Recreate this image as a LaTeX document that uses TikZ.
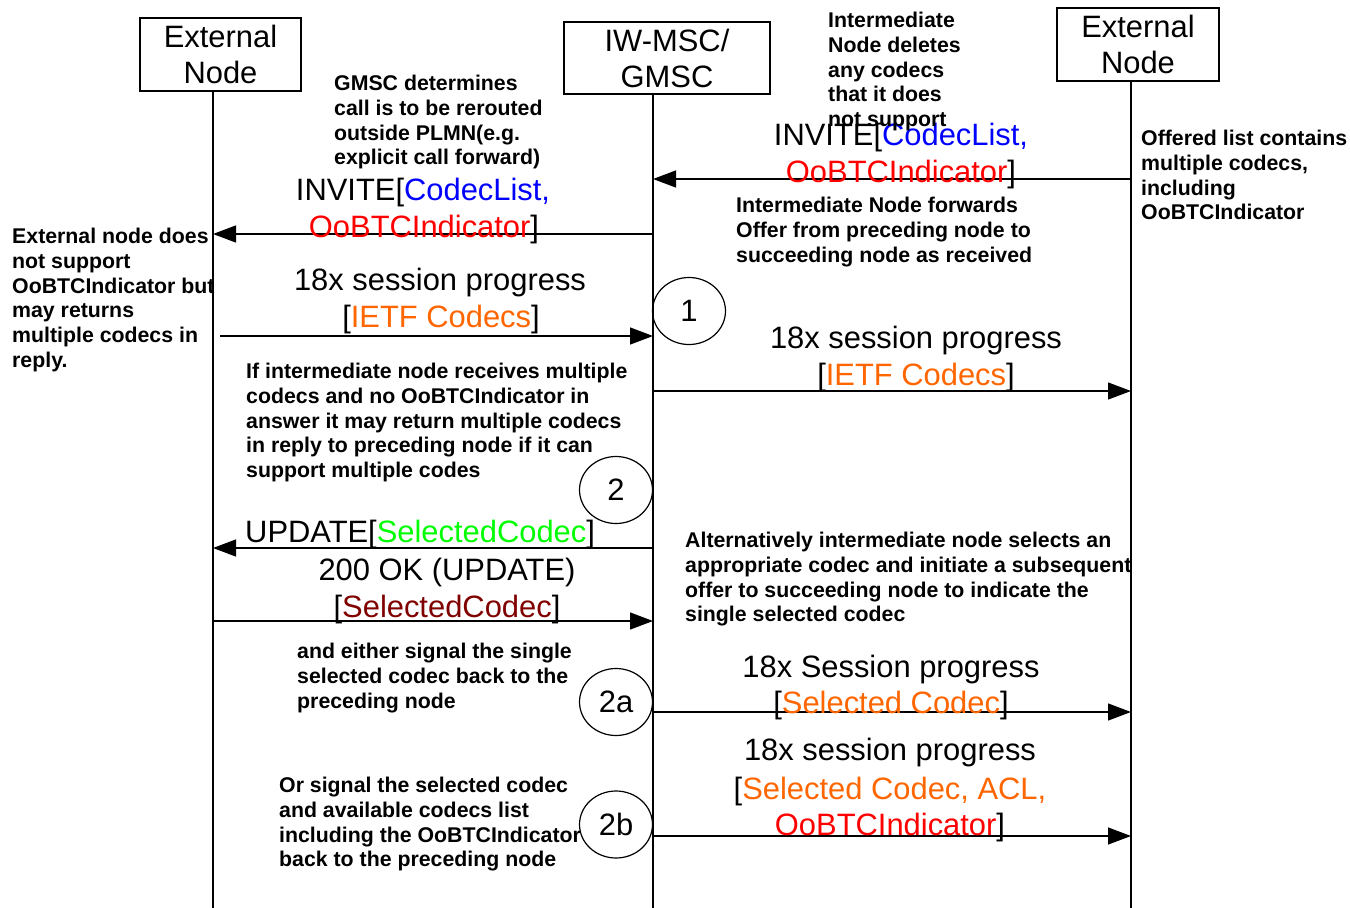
\documentclass[tikz,border=0pt]{standalone}
\usepackage{fontspec}
\setmainfont{Liberation Sans}
\usetikzlibrary{arrows.meta,shapes.geometric}
\definecolor{cblue}{RGB}{0,0,255}
\definecolor{cred}{RGB}{255,0,0}
\definecolor{corange}{RGB}{255,102,0}
\definecolor{cgreen}{RGB}{0,255,0}
\definecolor{cdred}{RGB}{128,0,0}
\newcommand{\bigf}{\fontsize{30.9}{36}\selectfont}
\newcommand{\notef}{\fontsize{21.3}{24.7}\selectfont\bfseries}
\begin{document}
\begin{tikzpicture}[x=1pt,y=-1pt,
  actor/.style={draw, line width=1.3pt, align=center, font=\bigf, inner sep=0pt},
  lbl/.style={anchor=base, inner sep=0pt, font=\bigf},
  note/.style={anchor=north west, inner sep=0pt, align=left, font=\notef},
  msg/.style={line width=1.3pt, -{Triangle[length=23pt,width=17pt]}},
  life/.style={line width=1.3pt},
  numc/.style={draw, ellipse, line width=1.2pt, minimum width=73pt, minimum height=67pt, inner sep=0pt, font=\bigf}]
\useasboundingbox (0,0) rectangle (1350,908);
% actors
\node[actor, minimum width=161pt, minimum height=73pt] (lbox) at (220.5,54.5) {External\\Node};
\node[actor, minimum width=206pt, minimum height=72pt] (mbox) at (667,58) {IW-MSC/\\GMSC};
\node[actor, minimum width=162pt, minimum height=73pt] (rbox) at (1138,44.5) {External\\Node};
\coordinate (lbot) at (213,908);
\coordinate (mbot) at (653,908);
\coordinate (rbot) at (1131,908);
\draw[life] (lbox.south -| lbot) -- (lbot);
\draw[life] (mbox.south -| mbot) -- (mbot);
\draw[life] (rbox.south -| rbot) -- (rbot);
% message coordinates
\coordinate (r1) at (1131,179); \coordinate (m1) at (653,179);
\coordinate (m2) at (653,234); \coordinate (l2) at (213,234);
\coordinate (l3) at (220,336); \coordinate (m3) at (653,336);
\coordinate (m4) at (653,391); \coordinate (r4) at (1131,391);
\coordinate (m5) at (653,548); \coordinate (l5) at (213,548);
\coordinate (l6) at (213,621); \coordinate (m6) at (653,621);
\coordinate (m7) at (653,712); \coordinate (r7) at (1131,712);
\coordinate (m8) at (653,836); \coordinate (r8) at (1131,836);
\draw[msg] (r1) -- (m1);
\draw[msg] (m2) -- (l2);
\draw[msg] (l3) -- (m3);
\draw[msg] (m4) -- (r4);
\draw[msg] (m5) -- (l5);
\draw[msg] (l6) -- (m6);
\draw[msg] (m7) -- (r7);
\draw[msg] (m8) -- (r8);
% message labels
\node[lbl] (t1a) at (901,145) {INVITE[\textcolor{cblue}{CodecList,}};
\node[lbl] (t1b) at (901,182) {\textcolor{cred}{OoBTCIndicator}]};
\node[lbl] (t2a) at (423,200) {INVITE[\textcolor{cblue}{CodecList,}};
\node[lbl] (t2b) at (424,237) {\textcolor{cred}{OoBTCIndicator}]};
\node[lbl] (t3a) at (440,290) {18x session progress};
\node[lbl] (t3b) at (441,327) {[\textcolor{corange}{IETF Codecs}]};
\node[lbl] (t4a) at (916,348) {18x session progress};
\node[lbl] (t4b) at (916,385) {[\textcolor{corange}{IETF Codecs}]};
\node[lbl, anchor=base west] (t5) at (245,542) {UPDATE[\textcolor{cgreen}{SelectedCodec}]};
\node[lbl] (t6a) at (447,580) {200 OK (UPDATE)};
\node[lbl] (t6b) at (447,617) {[\textcolor{cdred}{SelectedCodec}]};
\node[lbl] (t7a) at (891,677) {18x Session progress};
\node[lbl] (t7b) at (891,713) {[\textcolor{corange}{Selected Codec}]};
\node[lbl] (t8a) at (890,760) {18x session progress};
\node[lbl] (t8b) at (890,799) {[\textcolor{corange}{Selected Codec, ACL,}};
\node[lbl] (t8c) at (890,835) {\textcolor{cred}{OoBTCIndicator}]};
% step circles
\node[numc] (c1) at (689,311) {1};
\node[numc] (c2) at (616,490) {2};
\node[numc] (c2a) at (616,702) {2a};
\node[numc] (c2b) at (616,824.5) {2b};
% notes
\node[note] (n1) at (334,75) {GMSC determines\\call is to be rerouted\\outside PLMN(e.g.\\explicit call forward)};
\node[note] (n2) at (828,12) {Intermediate\\Node deletes\\any codecs\\that it does\\not support};
\node[note] (n3) at (1141,130) {Offered list contains\\multiple codecs,\\including\\OoBTCIndicator};
\node[note] (n4) at (736,197) {Intermediate Node forwards\\Offer from preceding node to\\succeeding node as received};
\node[note] (n5) at (12,228) {External node does\\not support\\OoBTCIndicator but\\may returns\\multiple codecs in\\reply.};
\node[note] (n6) at (246,363) {If intermediate node receives multiple\\codecs and no OoBTCIndicator in\\answer it may return multiple codecs\\in reply to preceding node if it can\\support multiple codes};
\node[note] (n7) at (685,532) {Alternatively intermediate node selects an\\appropriate codec and initiate a subsequent\\offer to succeeding node to indicate the\\single selected codec};
\node[note] (n8) at (297,643) {and either signal the single\\selected codec back to the\\preceding node};
\node[note] (n9) at (279,777) {Or signal the selected codec\\and available codecs list\\including the OoBTCIndicator\\back to the preceding node};
\end{tikzpicture}
\end{document}
